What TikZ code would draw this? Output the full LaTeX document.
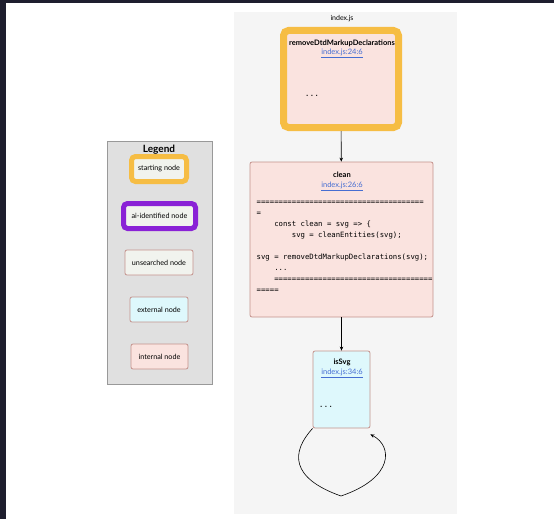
\documentclass[tikz,border=0pt]{standalone}
\usepackage{fontspec}
\setmainfont{Lato}
\setmonofont{DejaVu Sans Mono}
\usetikzlibrary{arrows.meta,positioning}
\definecolor{gvframe}{RGB}{30,30,46}
\definecolor{gvcluster}{RGB}{245,245,245}
\definecolor{gvlegend}{RGB}{224,224,224}
\definecolor{gvorange}{RGB}{246,189,68}
\definecolor{gvpurple}{RGB}{138,34,214}
\definecolor{gvpink}{RGB}{250,227,223}
\definecolor{gvcyan}{RGB}{222,248,252}
\definecolor{gvgrey}{RGB}{241,243,238}
\definecolor{gvedge}{RGB}{196,146,140}
\definecolor{gvlink}{RGB}{70,110,210}
\tikzset{
  fnbox/.style={draw=gvedge, line width=0.8pt, rounded corners=2pt, inner sep=0pt},
  startbox/.style={draw=gvorange, line width=7pt, rounded corners=5pt, fill=gvpink, inner sep=0pt},
  keybox/.style={fnbox, minimum height=25pt, font=\fontsize{7.2}{8}\selectfont},
  fntitle/.style={font=\fontsize{7.5}{9}\selectfont\bfseries, inner sep=0pt},
  fnlink/.style={font=\fontsize{7.5}{9}\selectfont, text=gvlink, inner sep=0pt},
  dots/.style={font=\fontsize{8}{9}\selectfont\ttfamily, inner sep=0pt},
  flow/.style={-{Stealth[length=4pt,width=3.5pt]}, line width=0.6pt}
}
\newcommand{\lnk}[1]{\underline{#1}}
\begin{document}
\begin{tikzpicture}[x=1pt,y=-1pt]
\useasboundingbox (0,0) rectangle (554,519);
% window frame
\fill[gvframe] (0,0) rectangle (554,3);
\fill[gvframe] (0,0) rectangle (6,519);
% file cluster
\fill[gvcluster] (234,12) rectangle (457,514);
\node[font=\fontsize{7}{8}\selectfont, inner sep=0pt] (file) at (342,19) {index.js};
% function nodes
\node[startbox, minimum width=115pt, minimum height=97pt] (remove) at (341,79) {};
\node[fntitle] (removet) at (342,43) {removeDtdMarkupDeclarations};
\node[fnlink] (removel) at (342,53) {\lnk{index.js:24:6}};
\node[dots] (removed) at (312,96) {...};
\node[fnbox, fill=gvpink, minimum width=183pt, minimum height=155pt] (clean) at (341.5,239.5) {};
\node[fntitle] (cleant) at (342,175) {clean};
\node[fnlink] (cleanl) at (342,186) {\lnk{index.js:26:6}};
\node[anchor=north west, inner sep=0pt, align=left,
      font=\fontsize{7.3}{11}\selectfont\ttfamily] (cleanc) at (256.5,201) {%
======================================\\
=\\
\hphantom{xxxx}const clean = svg => \{\\
\hphantom{xxxxxxxx}svg = cleanEntities(svg);\\
\\
svg = removeDtdMarkupDeclarations(svg);\\
\hphantom{xxxx}...\\
\hphantom{xxxx}====================================\\
=====};
\node[fnbox, fill=gvcyan, minimum width=57pt, minimum height=77pt] (isvg) at (341.5,389.5) {};
\node[fntitle] (isvgt) at (342,362) {isSvg};
\node[fnlink] (isvgl) at (342,373) {\lnk{index.js:34:6}};
\node[dots] (isvgd) at (326,407) {...};
% calls
\draw[flow] (remove) -- (clean);
\draw[flow] (clean) -- (isvg);
\draw[flow] (isvg.south west) .. controls (291,452) and (290,478) .. (341,496)
  .. controls (394,478) and (393,446) .. ([yshift=-6pt]isvg.south east);
% legend
\node[draw=gray!80, fill=gvlegend, line width=0.8pt, minimum width=105pt, minimum height=243pt] (legend) at (159.5,262.5) {};
\node[font=\fontsize{10}{11}\selectfont\bfseries, inner sep=0pt] (legendt) at (159,150) {Legend};
\node[keybox, draw=gvorange, line width=5pt, rounded corners=4pt, fill=gvgrey, minimum width=55pt] (kstart) at (159,169) {starting node};
\node[keybox, draw=gvpurple, line width=5pt, rounded corners=4pt, fill=gvgrey, minimum width=72pt] (kai) at (159.5,216) {ai-identified node};
\node[keybox, fill=gvgrey, minimum width=68pt] (kunsearched) at (159,262.5) {unsearched node};
\node[keybox, fill=gvcyan, minimum width=58pt] (kexternal) at (159,309.5) {external node};
\node[keybox, fill=gvpink, minimum width=57pt] (kinternal) at (159.5,356.5) {internal node};
\end{tikzpicture}
\end{document}
